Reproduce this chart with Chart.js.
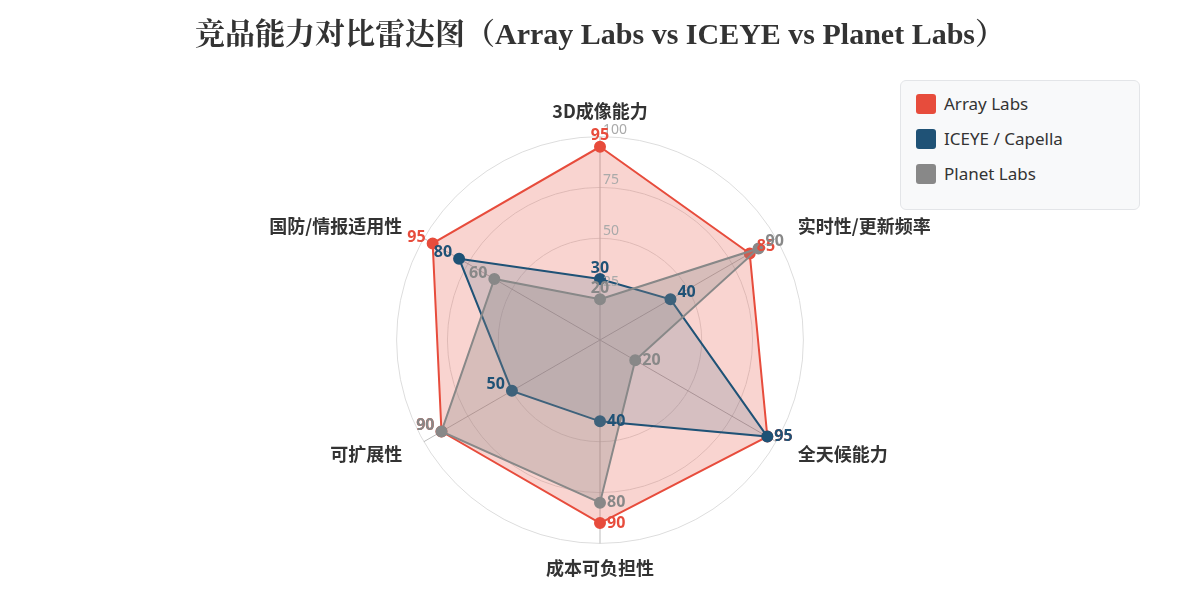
<!DOCTYPE html>
<html>
<head>
<meta charset="utf-8">
<script src="https://cdn.jsdelivr.net/npm/chart.js@4/dist/chart.umd.min.js"></script>
<style>
  html, body { margin: 0; padding: 0; background: #fff; }
  #wrap { position: relative; width: 1200px; height: 600px; }
  #legend {
    position: absolute; left: 900px; top: 80px; width: 240px; height: 130px;
    background: #f8f9fa; border: 1px solid #e3e5e8; border-radius: 6px;
    box-sizing: border-box; padding: 5px 0 0 15px;
    font-family: 'Noto Sans', 'Noto Sans CJK SC', sans-serif; font-size: 17px; color: #333;
  }
  .item { display: flex; align-items: center; height: 35px; }
  .sw { width: 20px; height: 20px; border-radius: 3px; margin-right: 8px; }
</style>
</head>
<body>
<div id="wrap">
  <canvas id="radar" width="1200" height="600"></canvas>
  <div id="legend"></div>
</div>
<script>
// 维度
const labels = ['3D成像能力', '实时性/更新频率', '全天候能力', '成本可负担性', '可扩展性', '国防/情报适用性'];
const seriesNames = ['Array Labs', 'ICEYE / Capella', 'Planet Labs'];
const arrayLabs = [95, 85, 95, 90, 90, 95];
const iceye = [30, 40, 95, 40, 50, 80];
const planet = [20, 90, 20, 80, 90, 60];
const tickValues = [25, 50, 75, 100];

const colors = ['#e74c3c', '#1f5276', '#888888'];
const fills = ['rgba(231,76,60,0.24)', 'rgba(31,82,118,0.16)', 'rgba(136,136,136,0.30)'];

// legend (html)
const lg = document.getElementById('legend');
seriesNames.forEach(function (n, i) {
  lg.innerHTML += '<div class="item"><div class="sw" style="background:' + colors[i] + '"></div>' + n + '</div>';
});

// 维度标签、刻度标签、数值标签
const valueLabels = {
  id: 'valueLabels',
  afterDatasetsDraw(chart) {
    const ctx = chart.ctx;
    const r = chart.scales.r;
    const cx = r.xCenter;
    ctx.save();

    ctx.font = 'bold 18px "Noto Sans CJK SC", "Noto Sans", sans-serif';
    ctx.fillStyle = '#333';
    ctx.textBaseline = 'middle';
    labels.forEach(function (lab, i) {
      const p = r.getPointPosition(i, r.drawingArea + 25);
      if (Math.abs(p.x - cx) < 2) ctx.textAlign = 'center';
      else ctx.textAlign = p.x > cx ? 'left' : 'right';
      ctx.fillText(lab, p.x, p.y);
    });

    ctx.font = '14px "Noto Sans", sans-serif';
    ctx.fillStyle = '#aaa';
    ctx.textAlign = 'left';
    tickValues.forEach(function (v) {
      ctx.fillText(v, cx + 3, r.yCenter - r.getDistanceFromCenterForValue(v) - 7);
    });

    ctx.font = 'bold 16px "Noto Sans", "Noto Sans CJK SC", sans-serif';
    chart.data.datasets.forEach(function (ds, di) {
      const meta = chart.getDatasetMeta(di);
      ctx.fillStyle = colors[di];
      meta.data.forEach(function (pt, i) {
        const v = ds.data[i];
        if (i === 0) {
          ctx.textAlign = 'center'; ctx.textBaseline = 'bottom';
          ctx.fillText(v, pt.x, pt.y - 3);
        } else if (pt.x >= cx - 1) {
          ctx.textAlign = 'left'; ctx.textBaseline = 'middle';
          ctx.fillText(v, pt.x + 7, pt.y - (i === 1 ? 7 : 0));
        } else {
          ctx.textAlign = 'right'; ctx.textBaseline = 'middle';
          ctx.fillText(v, pt.x - 7, pt.y - (i === 5 || i === 4 ? 6 : 0));
        }
      });
    });
    ctx.restore();
  }
};

const datasets = [arrayLabs, iceye, planet].map(function (d, i) {
  return {
    label: seriesNames[i],
    data: d,
    order: 3 - i,
    borderColor: colors[i],
    backgroundColor: fills[i],
    borderWidth: 2,
    pointBackgroundColor: colors[i],
    pointBorderColor: colors[i],
    pointRadius: 5,
    fill: true
  };
});

new Chart(document.getElementById('radar'), {
  type: 'radar',
  data: { labels: labels, datasets: datasets },
  options: {
    responsive: false,
    animation: false,
    layout: { padding: { top: 0, bottom: 20, left: 0, right: 0 } },
    plugins: {
      legend: { display: false },
      tooltip: { enabled: false },
      title: {
        display: true,
        text: '竞品能力对比雷达图（Array Labs vs ICEYE vs Planet Labs）',
        color: '#333',
        font: { family: '"Liberation Serif", "Noto Serif CJK SC", "Noto Sans CJK SC", serif', size: 30, weight: 'bold' },
        padding: { top: 18, bottom: 48 }
      }
    },
    scales: {
      r: {
        min: 0,
        max: 100,
        afterBuildTicks: function (s) { s.ticks = tickValues.map(function (v) { return { value: v }; }); },
        ticks: { display: false },
        grid: { color: '#dddddd', lineWidth: 1, circular: true },
        angleLines: { color: '#bbbbbb', lineWidth: 1 },
        pointLabels: {
          color: 'rgba(0,0,0,0)',
          font: { size: 18, weight: 'bold', family: '"Noto Sans CJK SC", "Noto Sans", sans-serif' },
          padding: 14
        }
      }
    }
  },
  plugins: [valueLabels]
});
</script>
</body>
</html>
